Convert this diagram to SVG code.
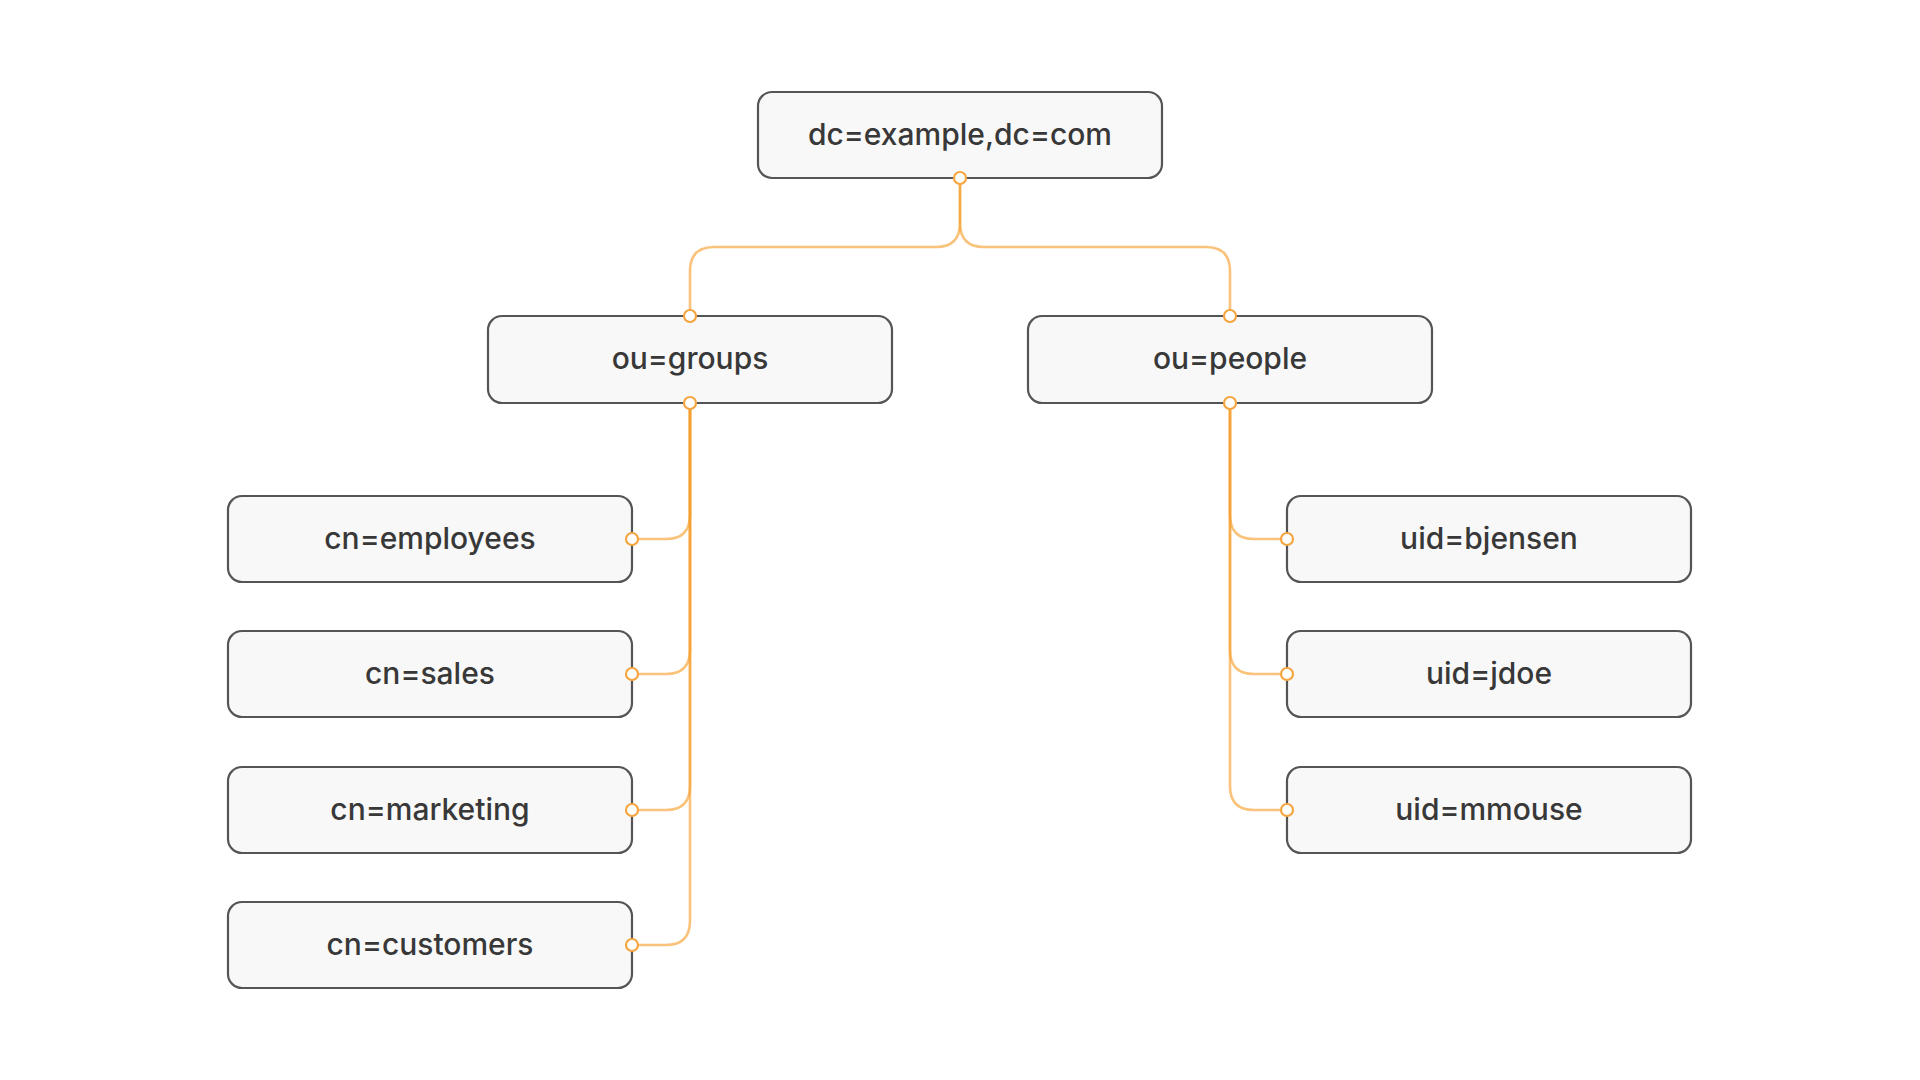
<svg xmlns="http://www.w3.org/2000/svg" width="1920" height="1080" viewBox="0 0 1920 1080">
<style>
.node rect{fill:#f8f8f8;stroke:#555;stroke-width:2.2}
.node text{font-family:Inter,"Noto Sans","Liberation Sans",sans-serif;font-size:30px;font-weight:500;fill:#383838;text-anchor:middle}
.edge{fill:none;stroke:#f59e2c;stroke-width:2.6;stroke-opacity:0.62}
.port{fill:#fff;stroke:#f5a540;stroke-width:2.2}
</style>
<rect width="1920" height="1080" fill="#fff"/>
<g id="connectors">
<path class="edge" d="M960,178 V223 Q960,247 936,247 H714 Q690,247 690,271 V316"/>
<path class="edge" d="M960,178 V223 Q960,247 984,247 H1206 Q1230,247 1230,271 V316"/>
<path class="edge" d="M690,403 V515 Q690,539 666,539 H632"/>
<path class="edge" d="M690,403 V650 Q690,674 666,674 H632"/>
<path class="edge" d="M690,403 V786 Q690,810 666,810 H632"/>
<path class="edge" d="M690,403 V921 Q690,945 666,945 H632"/>
<path class="edge" d="M1230,403 V515 Q1230,539 1254,539 H1288"/>
<path class="edge" d="M1230,403 V650 Q1230,674 1254,674 H1288"/>
<path class="edge" d="M1230,403 V786 Q1230,810 1254,810 H1288"/>
</g>
<g id="n-root" class="node"><rect x="758" y="92" width="404" height="86" rx="14"/><text x="960" y="145">dc=example,dc=com</text></g>
<g id="n-groups" class="node"><rect x="488" y="316" width="404" height="87" rx="14"/><text x="690" y="369">ou=groups</text></g>
<g id="n-people" class="node"><rect x="1028" y="316" width="404" height="87" rx="14"/><text x="1230" y="369">ou=people</text></g>
<g id="n-employees" class="node"><rect x="228" y="496" width="404" height="86" rx="14"/><text x="430" y="549">cn=employees</text></g>
<g id="n-sales" class="node"><rect x="228" y="631" width="404" height="86" rx="14"/><text x="430" y="684">cn=sales</text></g>
<g id="n-marketing" class="node"><rect x="228" y="767" width="404" height="86" rx="14"/><text x="430" y="820">cn=marketing</text></g>
<g id="n-customers" class="node"><rect x="228" y="902" width="404" height="86" rx="14"/><text x="430" y="955">cn=customers</text></g>
<g id="n-bjensen" class="node"><rect x="1287" y="496" width="404" height="86" rx="14"/><text x="1489" y="549">uid=bjensen</text></g>
<g id="n-jdoe" class="node"><rect x="1287" y="631" width="404" height="86" rx="14"/><text x="1489" y="684">uid=jdoe</text></g>
<g id="n-mmouse" class="node"><rect x="1287" y="767" width="404" height="86" rx="14"/><text x="1489" y="820">uid=mmouse</text></g>
<g id="ports">
<circle class="port" cx="960" cy="178" r="6"/>
<circle class="port" cx="690" cy="316" r="6"/>
<circle class="port" cx="690" cy="403" r="6"/>
<circle class="port" cx="1230" cy="316" r="6"/>
<circle class="port" cx="1230" cy="403" r="6"/>
<circle class="port" cx="632" cy="539" r="6"/>
<circle class="port" cx="632" cy="674" r="6"/>
<circle class="port" cx="632" cy="810" r="6"/>
<circle class="port" cx="632" cy="945" r="6"/>
<circle class="port" cx="1287" cy="539" r="6"/>
<circle class="port" cx="1287" cy="674" r="6"/>
<circle class="port" cx="1287" cy="810" r="6"/>
</g>
</svg>
